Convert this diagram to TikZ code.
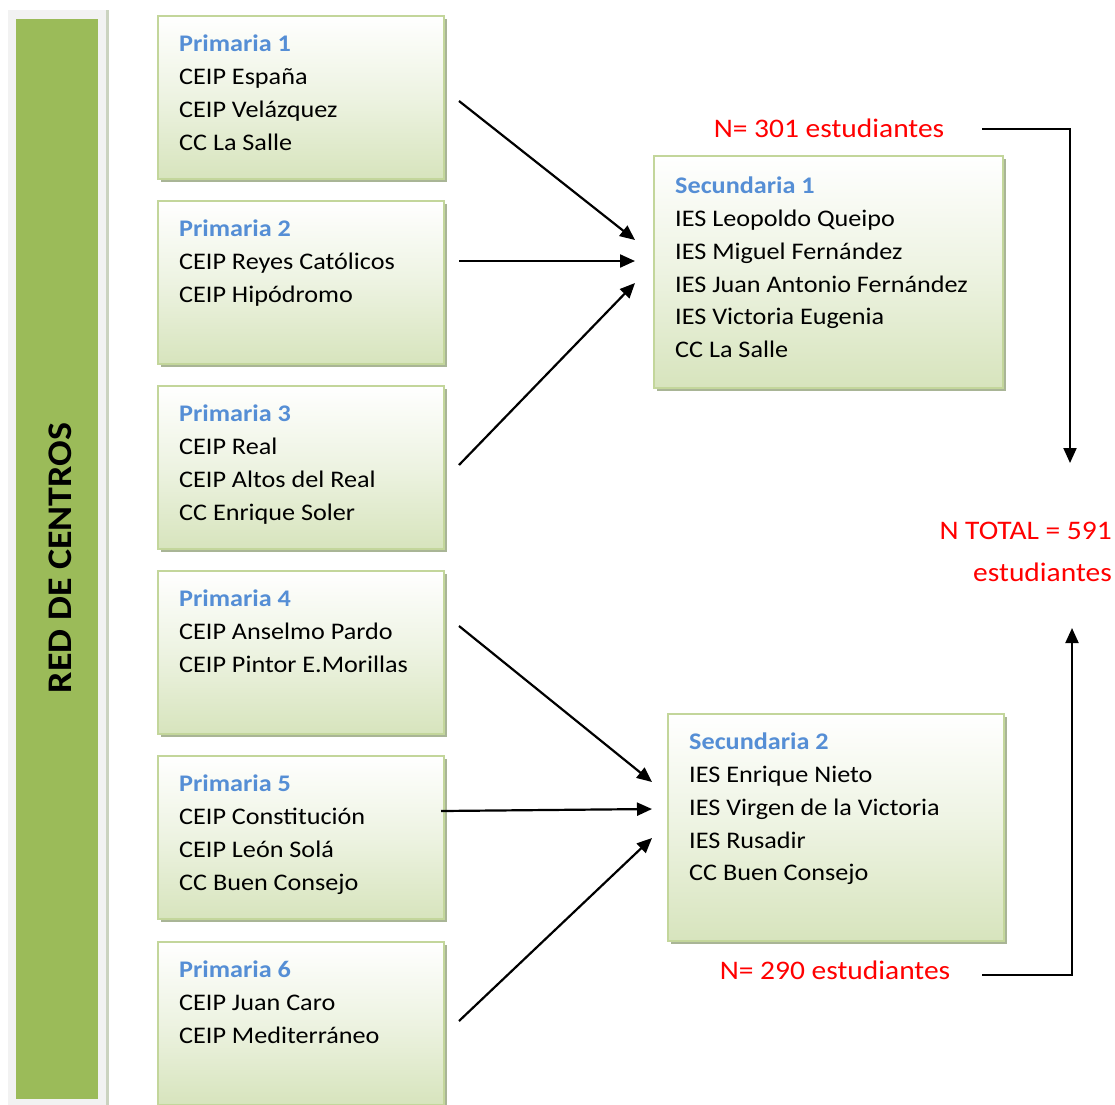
\documentclass[tikz,border=0pt]{standalone}
\usepackage{fontspec}
\setmainfont{Carlito}[FakeStretch=1.1]
\usetikzlibrary{arrows.meta,shadows}
\definecolor{bargreen}{HTML}{9BBB59}
\definecolor{bargray}{HTML}{F2F2F2}
\definecolor{boxline}{HTML}{C3D69B}
\definecolor{boxfill}{HTML}{D7E4BD}
\definecolor{shadowc}{HTML}{A9B596}
\definecolor{titleblue}{HTML}{558ED5}
\definecolor{countred}{HTML}{FF0000}
\tikzset{
  gbox/.style={draw=boxline, line width=1.5pt, top color=white, bottom color=boxfill,
    middle color=boxfill!45, inner sep=0pt, anchor=north west,
    drop shadow={shadow xshift=3pt, shadow yshift=-3pt, fill=shadowc, opacity=1}},
  pbox/.style={gbox, minimum width=286pt, minimum height=163pt},
  txt/.style={anchor=north west, align=left, inner sep=0pt,
    font=\fontsize{23.8}{32.7}\selectfont},
  count/.style={text=countred, inner sep=0pt, font=\fontsize{26.8}{42}\selectfont},
  link/.style={line width=2.2pt, -{Triangle[length=15pt,width=13pt]}},
  bracket/.style={line width=2pt, -{Triangle[length=15pt,width=13pt]}}
}
\newcommand{\ttlline}[1]{{\color{titleblue}\bfseries #1}}
\begin{document}
\begin{tikzpicture}[x=1pt,y=-1pt]
\useasboundingbox (0,0) rectangle (1115,1104);
\clip (0,0) rectangle (1115,1104);

% side banner
\fill[shadowc!60] (106,10) rectangle (108.5,1110);
\fill[bargray] (8,10) rectangle (106,1110);
\fill[bargreen] (16,19) rectangle (98,1099);
\node[rotate=90, font=\fontsize{34.5}{40}\selectfont\bfseries, inner sep=0pt] (banner) at (60,558) {RED DE CENTROS};

% primary schools
\foreach \i/\y in {1/15,2/200,3/385,4/570,5/755,6/941}
  \node[pbox] (p\i) at (157,\y) {};

\node[txt] (t1) at ([xshift=22pt,yshift=-20pt]p1.north west)
  {\ttlline{Primaria 1}\\CEIP España\\CEIP Velázquez\\CC La Salle};
\node[txt] (t2) at ([xshift=22pt,yshift=-20pt]p2.north west)
  {\ttlline{Primaria 2}\\CEIP Reyes Católicos\\CEIP Hipódromo};
\node[txt] (t3) at ([xshift=22pt,yshift=-20pt]p3.north west)
  {\ttlline{Primaria 3}\\CEIP Real\\CEIP Altos del Real\\CC Enrique Soler};
\node[txt] (t4) at ([xshift=22pt,yshift=-20pt]p4.north west)
  {\ttlline{Primaria 4}\\CEIP Anselmo Pardo\\CEIP Pintor E.Morillas};
\node[txt] (t5) at ([xshift=22pt,yshift=-20pt]p5.north west)
  {\ttlline{Primaria 5}\\CEIP Constitución\\CEIP León Solá\\CC Buen Consejo};
\node[txt] (t6) at ([xshift=22pt,yshift=-20pt]p6.north west)
  {\ttlline{Primaria 6}\\CEIP Juan Caro\\CEIP Mediterráneo};

% secondary schools
\node[gbox, minimum width=349pt, minimum height=232pt] (s1) at (653,155) {};
\node[gbox, minimum width=336pt, minimum height=227pt] (s2) at (667,713) {};
\node[txt] (u1) at ([xshift=22pt,yshift=-22pt]s1.north west)
  {\ttlline{Secundaria 1}\\IES Leopoldo Queipo\\IES Miguel Fernández\\IES Juan Antonio Fernández\\IES Victoria Eugenia\\CC La Salle};
\node[txt] (u2) at ([xshift=22pt,yshift=-20pt]s2.north west)
  {\ttlline{Secundaria 2}\\IES Enrique Nieto\\IES Virgen de la Victoria\\IES Rusadir\\CC Buen Consejo};

% counts
\node[count] (n1) at (829,128) {N= 301 estudiantes};
\node[count] (n2) at (835,970) {N= 290 estudiantes};
\node[count, align=right, anchor=east] (tot) at (1112,552) {N TOTAL = 591\\estudiantes};

% connector end points
\coordinate (a1) at (459,101);  \coordinate (b1) at (635,240);
\coordinate (a2) at (459,261);  \coordinate (b2) at (635,261);
\coordinate (a3) at (459,465);  \coordinate (b3) at (635,283);
\coordinate (a4) at (459,626);  \coordinate (b4) at (652,782);
\coordinate (a5) at (441,811);  \coordinate (b5) at (652,809);
\coordinate (a6) at (459,1021); \coordinate (b6) at (652,838);
\coordinate (c1) at (982,129);  \coordinate (d1) at (1070,463);
\coordinate (c2) at (982,975);  \coordinate (d2) at (1072,628);

\foreach \k in {1,...,6}
  \draw[link] (a\k) -- (b\k);

\draw[bracket] (c1) -| (d1);
\draw[bracket] (c2) -| (d2);
\end{tikzpicture}
\end{document}
